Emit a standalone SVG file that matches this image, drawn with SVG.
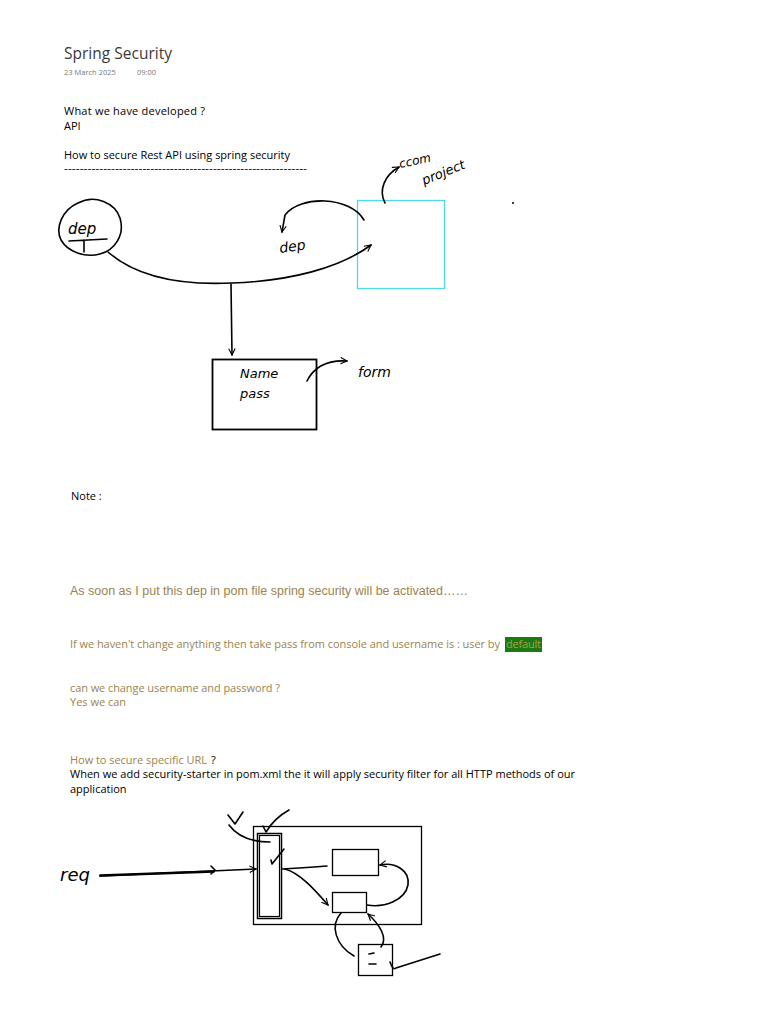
<svg xmlns="http://www.w3.org/2000/svg" width="768" height="1024" viewBox="0 0 768 1024">
<style>
.t{font-family:"Open Sans","Noto Sans",sans-serif;font-size:11px;fill:#000}
.tan{fill:#9a8350}
.ar{font-family:"Liberation Sans",Arial,sans-serif}
.ink{fill:none;stroke:#000;stroke-width:1.6;stroke-linecap:round;stroke-linejoin:round}
.hw{font-family:"DejaVu Sans","Noto Sans",sans-serif;font-style:italic;fill:#000}
</style>
<defs>
<marker id="ah" viewBox="0 0 10 10" refX="9" refY="5" markerWidth="8" markerHeight="8" orient="auto" markerUnits="userSpaceOnUse">
<path d="M1,1 L9,5 L1,9" fill="none" stroke="#000" stroke-width="1.4"/>
</marker>
</defs>
<rect width="768" height="1024" fill="#fff"/>

<g id="header">
<text x="64" y="59" class="t" style="font-size:15.5px;fill:#3a3a3a" textLength="108">Spring Security</text>
<text x="64" y="75" class="t" style="font-size:7.5px;fill:#777">23 March 2025</text>
<text x="137" y="75" class="t" style="font-size:7.5px;fill:#777">09:00</text>
<text x="64" y="115" class="t" textLength="141">What we have developed ?</text>
<text x="64" y="130" class="t">API</text>
<text x="64" y="159" class="t" textLength="226">How to secure Rest API using spring security</text>
<text x="64" y="172" class="t" textLength="243" lengthAdjust="spacingAndGlyphs">--------------------------------------------------------------</text>
</g>

<g id="node-dep">
<path class="ink" d="M78,203 C95,194 115,203 120,218 C125,235 115,250 100,254 C85,258 68,252 61,240 C55,228 62,210 78,203 Z"/>
<text x="68" y="234" class="hw" font-size="15">dep</text>
<path class="ink" d="M69,241 L107,239 M84,240 L84,252"/>
</g>

<g id="node-project">
<rect x="357.5" y="200.5" width="87" height="88" fill="none" stroke="#4fd8e8" stroke-width="1.3"/>
<text x="400" y="168" class="hw" font-size="12" transform="rotate(-12 400 168)">ccom</text>
<text x="424" y="185" class="hw" font-size="13" transform="rotate(-22 424 185)">project</text>
<circle cx="513" cy="203" r="1" fill="#000"/>
</g>

<g id="node-dep2">
<text x="280" y="253" class="hw" font-size="14" transform="rotate(-8 280 253)">dep</text>
</g>

<g id="node-namepass">
<rect x="212.5" y="359.5" width="104" height="70" fill="none" stroke="#000" stroke-width="1.8"/>
<text x="240" y="378" class="hw" font-size="13">Name</text>
<text x="240" y="398" class="hw" font-size="13">pass</text>
<text x="358" y="377" class="hw" font-size="14">form</text>
</g>

<g id="connectors">
<path class="ink" d="M108,252 C140,280 190,285 232,283 C290,281 340,268 371,245" marker-end="url(#ah)"/>
<path class="ink" d="M231,284 L232,355" marker-end="url(#ah)"/>
<path class="ink" d="M364,220 C350,196 300,195 285,215 L282,232" marker-end="url(#ah)"/>
<path class="ink" d="M385,203 C378,190 385,175 399,167" marker-end="url(#ah)"/>
<path class="ink" d="M307,381 C315,365 330,360 347,361" marker-end="url(#ah)"/>
</g>

<g id="notes">
<text x="71" y="500" class="t">Note :</text>
<text x="70" y="595" class="ar tan" font-size="12.5" textLength="398">As soon as I put this dep in pom file spring security will be activated……</text>
<text x="70" y="648" class="t tan" textLength="430">If we haven't change anything then take pass from console and username is : user by</text>
<rect x="505" y="637" width="37" height="15" fill="#1c7a12"/>
<text x="506" y="648" class="t" style="fill:#a6a046" textLength="35">default</text>
<text x="70" y="692" class="t tan" textLength="210">can we change username and password ?</text>
<text x="70" y="706" class="t tan">Yes we can</text>
<text x="70" y="764" class="t tan" textLength="137">How to secure specific URL</text>
<text x="211" y="764" class="t">?</text>
<text x="70" y="778" class="t" textLength="505">When we add security-starter in pom.xml the it will apply security filter for all HTTP methods of our</text>
<text x="70" y="793" class="t">application</text>
</g>

<g id="node-app">
<rect x="253.5" y="826.5" width="168" height="98" fill="none" stroke="#000" stroke-width="1.3"/>
</g>
<g id="node-filter">
<rect x="257.5" y="833.5" width="24" height="85" fill="none" stroke="#000" stroke-width="1.5"/>
<rect x="259.5" y="835.5" width="20" height="81" fill="none" stroke="#000" stroke-width="1.2"/>
</g>
<g id="node-top">
<rect x="332.5" y="849.5" width="46" height="26" fill="none" stroke="#000" stroke-width="1.3"/>
</g>
<g id="node-mid">
<rect x="332.5" y="892.5" width="34" height="20" fill="none" stroke="#000" stroke-width="1.3"/>
</g>
<g id="node-bottom">
<rect x="358.5" y="944.5" width="34" height="31" fill="none" stroke="#000" stroke-width="1.3"/>
<path class="ink" d="M369,954 L374,953 M369,964 L376,964"/>
</g>
<g id="node-req">
<text x="60" y="881" class="hw" font-size="18">req</text>
</g>

<g id="connectors-bottom">
<path class="ink" d="M100,875 L214,871 M100,876 L214,872" />
<path class="ink" d="M100,876 L256,869" marker-end="url(#ah)"/>
<path class="ink" d="M211,866 L215,870 L211,874"/>
<path class="ink" d="M282,869 C300,868 315,867 327,866"/>
<path class="ink" d="M285,869 C300,873 315,890 328,905" marker-end="url(#ah)"/>
<path class="ink" d="M367,905 C385,908 405,900 408,885 C410,870 395,862 380,865" marker-end="url(#ah)"/>
<path class="ink" d="M341,913 C330,925 335,945 354,956"/>
<path class="ink" d="M381,947 C388,938 380,925 368,914" marker-end="url(#ah)"/>
<path class="ink" d="M390,962 C392,968 394,970 396,968 L440,954"/>
<path class="ink" d="M228,815 L235,824 L243,812"/>
<path class="ink" d="M229,825 C237,836 252,842 270,842"/>
<path class="ink" d="M263,826 L266,832 C272,822 280,815 289,810"/>
<path class="ink" d="M271,860 L272,864 L284,849"/>
</g>
</svg>
